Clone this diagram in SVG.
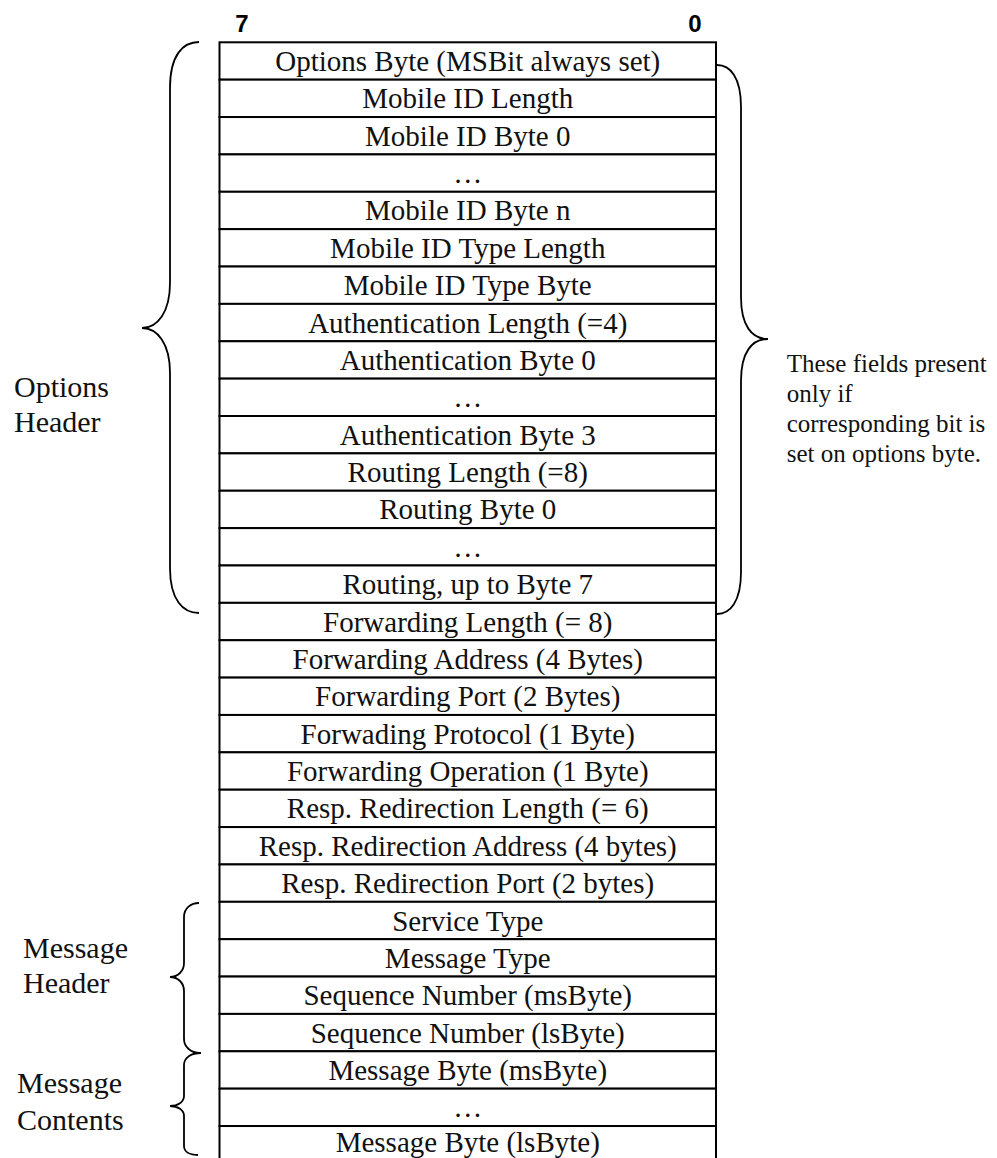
<svg xmlns="http://www.w3.org/2000/svg" width="997" height="1158" viewBox="0 0 997 1158">
  <style>
    .cell { fill: #ffffff; stroke: #000000; stroke-width: 2; }
    .field { font-family: "Liberation Serif", "Times New Roman", serif; font-size: 29px; fill: #111111; text-anchor: middle; }
    .label { font-family: "Liberation Serif", "Times New Roman", serif; font-size: 30px; fill: #111111; }
    .note { font-family: "Liberation Serif", "Times New Roman", serif; font-size: 25px; fill: #111111; }
    .bit { font-family: "Liberation Sans", Arial, sans-serif; font-size: 24px; font-weight: bold; fill: #000000; text-anchor: middle; }
    .brace { fill: none; stroke: #000000; stroke-width: 1.8; }
  </style>

  <!-- bit numbering above the byte column -->
  <g id="bit-labels">
    <text class="bit" x="242" y="31.7">7</text>
    <text class="bit" x="695" y="31.7">0</text>
  </g>

  <!-- byte layout: one row per field, 37.37px pitch starting at y=42.3 -->
  <g id="row-00"><rect class="cell" x="219.5" y="42.3" width="496.5" height="37.37"/><text class="field" x="467.75" y="71">Options Byte (MSBit always set)</text></g>
  <g id="row-01"><rect class="cell" x="219.5" y="79.67" width="496.5" height="37.37"/><text class="field" x="467.75" y="108.37">Mobile ID Length</text></g>
  <g id="row-02"><rect class="cell" x="219.5" y="117.04" width="496.5" height="37.37"/><text class="field" x="467.75" y="145.74">Mobile ID Byte 0</text></g>
  <g id="row-03"><rect class="cell" x="219.5" y="154.41" width="496.5" height="37.37"/><text class="field" x="467.75" y="183.11">…</text></g>
  <g id="row-04"><rect class="cell" x="219.5" y="191.78" width="496.5" height="37.37"/><text class="field" x="467.75" y="220.48">Mobile ID Byte n</text></g>
  <g id="row-05"><rect class="cell" x="219.5" y="229.15" width="496.5" height="37.37"/><text class="field" x="467.75" y="257.85">Mobile ID Type Length</text></g>
  <g id="row-06"><rect class="cell" x="219.5" y="266.52" width="496.5" height="37.37"/><text class="field" x="467.75" y="295.22">Mobile ID Type Byte</text></g>
  <g id="row-07"><rect class="cell" x="219.5" y="303.89" width="496.5" height="37.37"/><text class="field" x="467.75" y="332.59">Authentication Length (=4)</text></g>
  <g id="row-08"><rect class="cell" x="219.5" y="341.26" width="496.5" height="37.37"/><text class="field" x="467.75" y="369.96">Authentication Byte 0</text></g>
  <g id="row-09"><rect class="cell" x="219.5" y="378.63" width="496.5" height="37.37"/><text class="field" x="467.75" y="407.33">…</text></g>
  <g id="row-10"><rect class="cell" x="219.5" y="416.0" width="496.5" height="37.37"/><text class="field" x="467.75" y="444.7">Authentication Byte 3</text></g>
  <g id="row-11"><rect class="cell" x="219.5" y="453.37" width="496.5" height="37.37"/><text class="field" x="467.75" y="482.07">Routing Length (=8)</text></g>
  <g id="row-12"><rect class="cell" x="219.5" y="490.74" width="496.5" height="37.37"/><text class="field" x="467.75" y="519.44">Routing Byte 0</text></g>
  <g id="row-13"><rect class="cell" x="219.5" y="528.11" width="496.5" height="37.37"/><text class="field" x="467.75" y="556.81">…</text></g>
  <g id="row-14"><rect class="cell" x="219.5" y="565.48" width="496.5" height="37.37"/><text class="field" x="467.75" y="594.18">Routing, up to Byte 7</text></g>
  <g id="row-15"><rect class="cell" x="219.5" y="602.85" width="496.5" height="37.37"/><text class="field" x="467.75" y="631.55">Forwarding Length (= 8)</text></g>
  <g id="row-16"><rect class="cell" x="219.5" y="640.22" width="496.5" height="37.37"/><text class="field" x="467.75" y="668.92">Forwarding Address (4 Bytes)</text></g>
  <g id="row-17"><rect class="cell" x="219.5" y="677.59" width="496.5" height="37.37"/><text class="field" x="467.75" y="706.29">Forwarding Port (2 Bytes)</text></g>
  <g id="row-18"><rect class="cell" x="219.5" y="714.96" width="496.5" height="37.37"/><text class="field" x="467.75" y="743.66">Forwading Protocol (1 Byte)</text></g>
  <g id="row-19"><rect class="cell" x="219.5" y="752.33" width="496.5" height="37.37"/><text class="field" x="467.75" y="781.03">Forwarding Operation (1 Byte)</text></g>
  <g id="row-20"><rect class="cell" x="219.5" y="789.7" width="496.5" height="37.37"/><text class="field" x="467.75" y="818.4">Resp. Redirection Length (= 6)</text></g>
  <g id="row-21"><rect class="cell" x="219.5" y="827.07" width="496.5" height="37.37"/><text class="field" x="467.75" y="855.77">Resp. Redirection Address (4 bytes)</text></g>
  <g id="row-22"><rect class="cell" x="219.5" y="864.44" width="496.5" height="37.37"/><text class="field" x="467.75" y="893.14">Resp. Redirection Port (2 bytes)</text></g>
  <g id="row-23"><rect class="cell" x="219.5" y="901.81" width="496.5" height="37.37"/><text class="field" x="467.75" y="930.51">Service Type</text></g>
  <g id="row-24"><rect class="cell" x="219.5" y="939.18" width="496.5" height="37.37"/><text class="field" x="467.75" y="967.88">Message Type</text></g>
  <g id="row-25"><rect class="cell" x="219.5" y="976.55" width="496.5" height="37.37"/><text class="field" x="467.75" y="1005.25">Sequence Number (msByte)</text></g>
  <g id="row-26"><rect class="cell" x="219.5" y="1013.92" width="496.5" height="37.37"/><text class="field" x="467.75" y="1042.62">Sequence Number (lsByte)</text></g>
  <g id="row-27"><rect class="cell" x="219.5" y="1051.29" width="496.5" height="37.37"/><text class="field" x="467.75" y="1079.99">Message Byte (msByte)</text></g>
  <g id="row-28"><rect class="cell" x="219.5" y="1088.66" width="496.5" height="37.37"/><text class="field" x="467.75" y="1117.36">…</text></g>
  <g id="row-29"><rect class="cell" x="219.5" y="1126.03" width="496.5" height="37.37"/><text class="field" x="467.75" y="1151.5">Message Byte (lsByte)</text></g>

  <!-- grouping braces -->
  <g id="connectors">
    <path id="brace-options" class="brace" d="M199,42 C183,42 170,55 170,88 L170,283 C170,313 157,328 142,328 C157,328 170,343 170,373 L170,568 C170,600 183,613 199,613"/>
    <path id="brace-optional" class="brace" d="M717,65 C730,65 741,77 741,107 L741,297 C741,326 752,339 768,339 C752,339 741,352 741,381 L741,572 C741,602 730,614 717,614"/>
    <path id="brace-msg-header" class="brace" d="M199,903 C191,903 184,908 184,917 L184,963 C184,971 178,977 170,977 C178,977 184,983 184,991 L184,1039 C184,1047 191,1053 200,1053"/>
    <path id="brace-msg-contents" class="brace" d="M201,1053 C192,1053 184,1057 184,1065 L184,1096 C184,1102 178,1106 170,1106 C178,1106 184,1110 184,1116 L184,1146 C184,1152 190,1155 198,1155"/>
  </g>

  <!-- section labels -->
  <g id="label-options-header">
    <text class="label" x="14" y="396.7">Options</text>
    <text class="label" x="14" y="431.7">Header</text>
  </g>
  <g id="label-message-header">
    <text class="label" x="23" y="958">Message</text>
    <text class="label" x="23" y="992.7">Header</text>
  </g>
  <g id="label-message-contents">
    <text class="label" x="17" y="1093">Message</text>
    <text class="label" x="17" y="1130">Contents</text>
  </g>
  <g id="note-optional-fields">
    <text class="note" x="786.7" y="372">These fields present</text>
    <text class="note" x="786.7" y="401.7">only if</text>
    <text class="note" x="786.7" y="431.5">corresponding bit is</text>
    <text class="note" x="786.7" y="461.5">set on options byte.</text>
  </g>
</svg>
